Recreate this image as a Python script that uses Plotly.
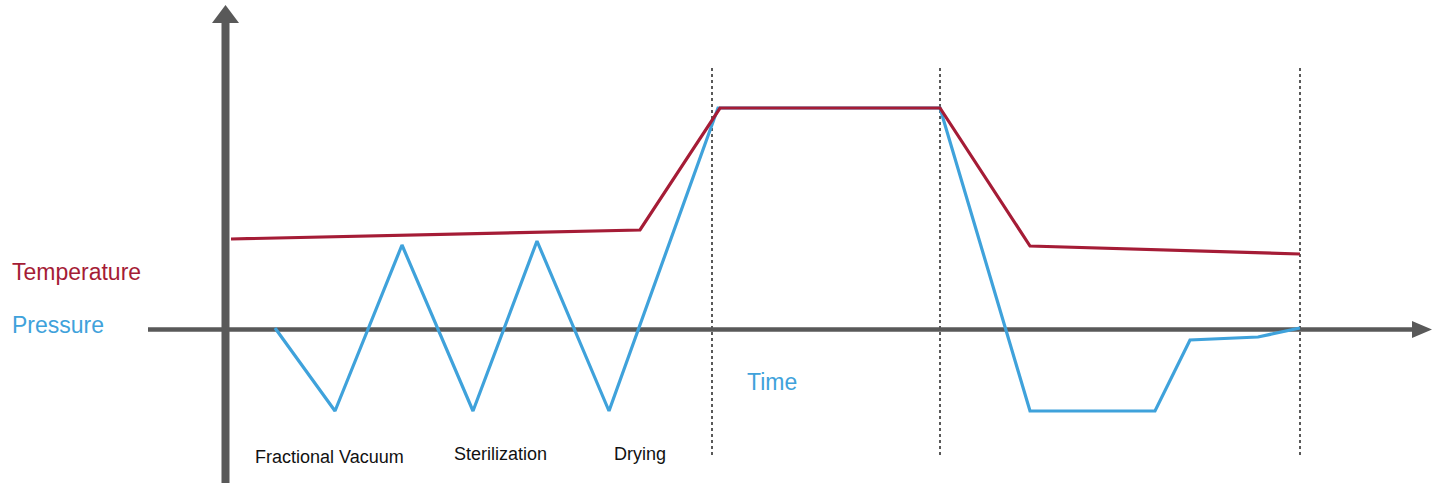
import plotly.graph_objects as go

# Time axis (arbitrary units), values relative to the time axis (0 = baseline)
temp_time = [3, 412, 492, 712, 802, 1072]
temp_vals = [89, 98, 220, 220, 82, 74]

pres_time = [47, 107, 174, 245, 309, 381, 490, 712, 802, 927, 962, 1030, 1072]
pres_vals = [0, -83, 83, -83, 87, -83, 220, 220, -83, -83, -12, -9, 0]

phase_bounds = [484, 712, 1072]
phase_labels = ["Fractional Vacuum", "Sterilization", "Drying"]
phase_label_x = [25, 224, 384]
phase_label_y = [-129, -126, -126]

RED = "#A51C36"
BLUE = "#3FA2DB"
GRAY = "#595959"
FONT = "Liberation Sans, Arial, sans-serif"

fig = go.Figure()
fig.add_trace(go.Scatter(x=pres_time, y=pres_vals, mode="lines",
                         line=dict(color=BLUE, width=3.2), hoverinfo="skip"))
fig.add_trace(go.Scatter(x=temp_time, y=temp_vals, mode="lines",
                         line=dict(color=RED, width=3.2), hoverinfo="skip"))

shapes = []
# horizontal axis
shapes.append(dict(type="line", x0=-80, x1=1186, y0=-1.5, y1=-1.5, xref="x", yref="y",
                   line=dict(color=GRAY, width=4.5), layer="below"))
shapes.append(dict(type="path", path="M 1184 7 L 1204 -1.5 L 1184 -10 Z", xref="x", yref="y",
                   fillcolor=GRAY, line=dict(width=0), layer="below"))
# vertical axis
shapes.append(dict(type="line", x0=-2.5, x1=-2.5, y0=-160, y1=306, xref="x", yref="y",
                   line=dict(color=GRAY, width=8), layer="below"))
shapes.append(dict(type="path", path="M -16 305 L -2.5 323 L 11 305 Z", xref="x", yref="y",
                   fillcolor=GRAY, line=dict(width=0), layer="below"))
for b in phase_bounds:
    shapes.append(dict(type="line", x0=b, x1=b, y0=-127, y1=261, xref="x", yref="y",
                       line=dict(color=GRAY, width=2, dash="dot"), layer="below"))

annotations = [
    dict(x=-218, y=56, text="Temperature", font=dict(color=RED, size=23, family=FONT)),
    dict(x=-218, y=3, text="Pressure", font=dict(color=BLUE, size=23, family=FONT)),
    dict(x=517, y=-54, text="Time", font=dict(color=BLUE, size=23, family=FONT)),
]
for lx, ly, lt in zip(phase_label_x, phase_label_y, phase_labels):
    annotations.append(dict(x=lx, y=ly, text=lt, font=dict(color="#111111", size=18, family=FONT)))
for a in annotations:
    a.update(xref="x", yref="y", showarrow=False, xanchor="left", yanchor="middle")

# 1 unit = 1 px; body margin removed so the figure fills the window
fig.update_layout(
    width=1437, height=483,
    margin=dict(l=0, r=0, t=0, b=0),
    paper_bgcolor="white", plot_bgcolor="white",
    showlegend=False,
    xaxis=dict(range=[-228, 1209], visible=False, fixedrange=True),
    yaxis=dict(range=[-155, 328], visible=False, fixedrange=True),
    shapes=shapes, annotations=annotations,
)
fig.write_html("out.html", config={"displayModeBar": False},
               post_script="document.body.style.margin='0';document.body.style.overflow='hidden';")
